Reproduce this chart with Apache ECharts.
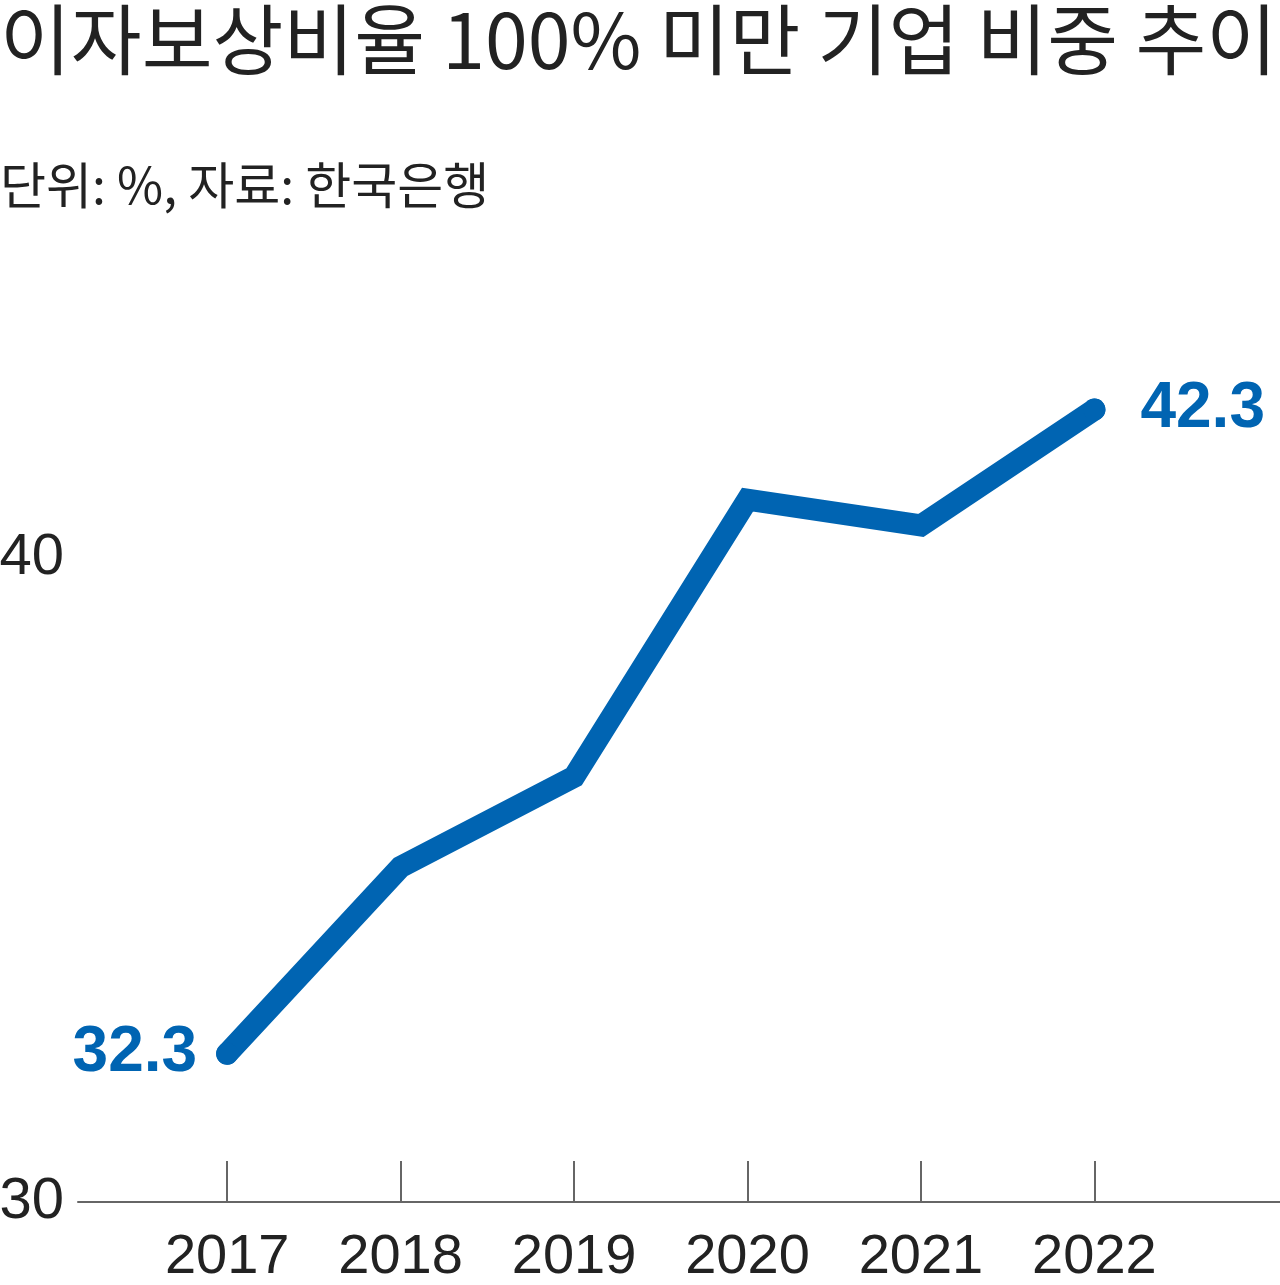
<!DOCTYPE html>
<html>
<head>
<meta charset="utf-8">
<script src="https://cdn.jsdelivr.net/npm/echarts@6/dist/echarts.min.js"></script>
<style>
html,body{margin:0;padding:0;background:#fff;}
#chart{width:1280px;height:1285px;}
</style>
</head>
<body>
<div id="chart"></div>
<script>
const titleText = '이자보상비율 100% 미만 기업 비중 추이';
const subText = '단위: %, 자료: 한국은행';
const years = [2017, 2018, 2019, 2020, 2021, 2022];
const values = [32.3, 35.2, 36.6, 40.9, 40.5, 42.3];
const yTicks = [30, 40];

const BLUE = '#0064b2';
const NUM_FONT = '"Liberation Sans", Arial, sans-serif';
const KR_FONT = '"Noto Sans CJK KR", sans-serif';

const last = years.length - 1;
const seriesData = years.map((y, i) => {
  const item = { value: [y, values[i]] };
  if (i === 0 || i === last) {
    item.symbol = 'circle';
    item.symbolSize = 22;
    item.label = {
      show: true,
      position: i === 0 ? 'left' : 'right',
      distance: i === 0 ? 19 : 35,
      formatter: String(values[i])
    };
  } else {
    item.symbol = 'none';
  }
  return item;
});

const chart = echarts.init(document.getElementById('chart'), null, { renderer: 'canvas' });
chart.setOption({
  backgroundColor: '#ffffff',
  animation: false,
  title: [
    {
      text: titleText,
      left: 0,
      top: -5,
      padding: 0,
      textStyle: { fontFamily: KR_FONT, fontSize: 77, fontWeight: 'normal', color: '#222', lineHeight: 90 }
    },
    {
      text: subText,
      left: 0,
      top: 155,
      padding: 0,
      textStyle: { fontFamily: KR_FONT, fontSize: 50, fontWeight: 'normal', color: '#222', lineHeight: 60 }
    }
  ],
  grid: { left: 78, right: 0, top: 300, bottom: 83, containLabel: false, outerBoundsMode: 'none' },
  xAxis: {
    type: 'value',
    min: 2016.14,
    max: 2023.07,
    splitLine: { show: false },
    axisLine: { show: true, lineStyle: { color: '#666', width: 2 } },
    axisTick: { show: true, inside: true, length: 41, customValues: years, lineStyle: { color: '#666', width: 2 } },
    axisLabel: {
      customValues: years,
      formatter: v => String(v),
      margin: 28,
      fontFamily: NUM_FONT,
      fontSize: 56,
      lineHeight: 56,
      color: '#222'
    }
  },
  yAxis: {
    type: 'value',
    min: 30,
    max: 44,
    splitLine: { show: false },
    axisLine: { show: false },
    axisTick: { show: false },
    axisLabel: {
      customValues: yTicks,
      margin: 14,
      fontFamily: NUM_FONT,
      fontSize: 58,
      color: '#222'
    }
  },
  series: [{
    type: 'line',
    data: seriesData,
    showAllSymbol: true,
    lineStyle: { color: BLUE, width: 22, cap: 'round', join: 'miter' },
    itemStyle: { color: BLUE },
    label: {
      fontFamily: NUM_FONT,
      fontSize: 64,
      fontWeight: 'bold',
      color: BLUE
    },
    silent: true
  }]
});
</script>
</body>
</html>
